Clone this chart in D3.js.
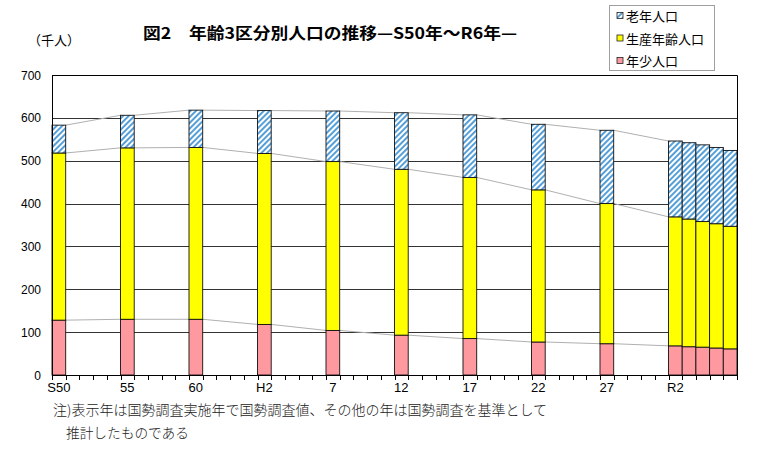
<!DOCTYPE html>
<html>
<head>
<meta charset="utf-8">
<script src="https://cdn.jsdelivr.net/npm/d3@7"></script>
<style>
  body { margin: 0; background: #fff; }
  svg { display: block; }
</style>
</head>
<body>
<div id="chart"></div>
<script>
// data (thousands of people)
var years = [1975, 1980, 1985, 1990, 1995, 2000, 2005, 2010, 2015, 2020, 2021, 2022, 2023, 2024];
var young = [128, 130, 130, 118, 104, 93, 85, 77, 73, 68, 66, 65, 63, 61];
var working = [390, 400, 401, 399, 394, 387, 376, 355, 327, 301, 298, 293, 290, 286];
var elderly = [65, 76, 87, 100, 118, 132, 146, 153, 171, 177, 178, 179, 178, 177];

var tickYears = [1975, 1980, 1985, 1990, 1995, 2000, 2005, 2010, 2015, 2020];
var tickLabels = ["S50", "55", "60", "H2", "7", "12", "17", "22", "27", "R2"];
var yTicks = [0, 100, 200, 300, 400, 500, 600, 700];

var legendNames = ["老年人口", "生産年齢人口", "年少人口"];

var width = 761,
    height = 455;
var plotLeft = 52, plotRight = 737, plotTop = 75, plotBottom = 375;
var jp = "'Noto Sans CJK JP', sans-serif";

var svg = d3.select("#chart").append("svg")
    .attr("width", width)
    .attr("height", height);

var defs = svg.append("defs");
var pat = defs.append("pattern")
    .attr("id", "hatch")
    .attr("patternUnits", "userSpaceOnUse")
    .attr("width", 4)
    .attr("height", 4)
    .attr("patternTransform", "rotate(45)");
pat.append("rect").attr("width", 4).attr("height", 4).attr("fill", "#fff");
pat.append("rect").attr("width", 2).attr("height", 4).attr("fill", "#559fd9");

var fills = ["#ff99a0", "#ffff00", "url(#hatch)"];

// category axis: one slot per year S50..R6
var x = d3.scaleBand()
    .domain(d3.range(1975, 2025))
    .range([plotLeft, plotRight])
    .padding(0);

var y = d3.scaleLinear()
    .domain([0, 700])
    .range([plotBottom, plotTop]);

// grid
svg.append("g")
    .selectAll("line")
    .data(yTicks.filter(function (d) { return d > 0; }))
    .enter().append("line")
    .attr("x1", plotLeft)
    .attr("x2", plotRight)
    .attr("y1", function (d) { return Math.round(y(d)) + 0.5; })
    .attr("y2", function (d) { return Math.round(y(d)) + 0.5; })
    .attr("stroke", function (d) { return d === 700 ? "#000" : "#333"; })
    .attr("stroke-width", 1);

// stacking
var rows = years.map(function (yr, i) {
    return { year: yr, young: young[i], working: working[i], elderly: elderly[i] };
});
var stack = d3.stack().keys(["young", "working", "elderly"]);
var layers = stack(rows);

// series lines between bar tops
var linesG = svg.append("g");
layers.forEach(function (layer) {
    for (var i = 0; i < layer.length - 1; i++) {
        linesG.append("line")
            .attr("x1", x(years[i]) + x.bandwidth())
            .attr("y1", y(layer[i][1]))
            .attr("x2", x(years[i + 1]))
            .attr("y2", y(layer[i + 1][1]))
            .attr("stroke", "#b0b0b0")
            .attr("stroke-width", 1);
    }
});

// bars
var g = svg.selectAll(".layer")
    .data(layers)
    .enter().append("g")
    .attr("class", "layer")
    .attr("fill", function (d, i) { return fills[i]; });

g.selectAll("rect")
    .data(function (d) { return d; })
    .enter().append("rect")
    .attr("x", function (d) { return x(d.data.year); })
    .attr("y", function (d) { return y(d[1]); })
    .attr("width", x.bandwidth())
    .attr("height", function (d) { return y(d[0]) - y(d[1]); })
    .attr("stroke", "#111")
    .attr("stroke-width", 0.9);

// border top/right and y axis line
svg.append("path")
    .attr("d", "M" + plotLeft + "," + (plotTop + 0.5) + "H" + (plotRight + 0.5) + "V" + plotBottom)
    .attr("fill", "none")
    .attr("stroke", "#000");
svg.append("line")
    .attr("x1", plotLeft + 0.5).attr("x2", plotLeft + 0.5)
    .attr("y1", plotTop).attr("y2", plotBottom)
    .attr("stroke", "#000");

// x axis
var xAxis = svg.append("g");
xAxis.append("line")
    .attr("x1", plotLeft).attr("x2", plotRight + 1)
    .attr("y1", plotBottom + 0.5).attr("y2", plotBottom + 0.5)
    .attr("stroke", "#000").attr("stroke-width", 1.2);
xAxis.selectAll(".tick")
    .data(d3.range(1975, 2026))
    .enter().append("line")
    .attr("x1", function (d) { return Math.round(d === 2025 ? plotRight : x(d)) + 0.5; })
    .attr("x2", function (d) { return Math.round(d === 2025 ? plotRight : x(d)) + 0.5; })
    .attr("y1", plotBottom)
    .attr("y2", plotBottom + 5)
    .attr("stroke", "#000");
xAxis.selectAll("text")
    .data(tickYears)
    .enter().append("text")
    .attr("x", function (d) { return x(d) + x.bandwidth() / 2; })
    .attr("y", plotBottom + 17)
    .attr("text-anchor", "middle")
    .attr("font-family", "'Liberation Sans Narrow', 'Arial Narrow', sans-serif")
    .attr("font-size", 13)
    .text(function (d, i) { return tickLabels[i]; });

// y axis labels
svg.append("g")
    .selectAll("text")
    .data(yTicks)
    .enter().append("text")
    .attr("x", 41)
    .attr("y", function (d) { return y(d) + 4.5; })
    .attr("text-anchor", "end")
    .attr("font-family", "'Liberation Sans', Arial, sans-serif")
    .attr("font-size", 12)
    .text(function (d) { return d; });

// unit
svg.append("text")
    .attr("x", 28)
    .attr("y", 45)
    .attr("font-family", jp)
    .attr("font-size", 13)
    .text("（千人）");

// title
svg.append("text")
    .attr("x", 143)
    .attr("y", 39)
    .attr("font-family", jp)
    .attr("font-weight", "bold")
    .attr("font-size", 16)
    .attr("textLength", 374)
    .attr("lengthAdjust", "spacingAndGlyphs")
    .text("図2\u3000年齢3区分別人口の推移\u2014S50年～R6年\u2014");

// legend
var lg = svg.append("g");
lg.append("rect")
    .attr("x", 609.5).attr("y", 5.5)
    .attr("width", 105).attr("height", 65)
    .attr("fill", "#fff")
    .attr("stroke", "#a0a0a0");
var legFills = [fills[2], fills[1], fills[0]];
legendNames.forEach(function (name, i) {
    var cy = 16 + i * 22.5;
    lg.append("rect")
        .attr("x", 617).attr("y", cy - 3.5)
        .attr("width", 6).attr("height", 6)
        .attr("fill", legFills[i])
        .attr("stroke", "#222")
        .attr("stroke-width", 0.8);
    lg.append("text")
        .attr("x", 626)
        .attr("y", cy + 5)
        .attr("font-family", jp)
        .attr("font-size", 13)
        .text(name);
});

// note
svg.append("text")
    .attr("x", 53)
    .attr("y", 415)
    .attr("font-family", jp)
    .attr("font-size", 14)
    .attr("font-weight", 300)
    .attr("fill", "#222")
    .attr("textLength", 494)
    .attr("lengthAdjust", "spacingAndGlyphs")
    .text("注)表示年は国勢調査実施年で国勢調査値、その他の年は国勢調査を基準として");
svg.append("text")
    .attr("x", 66)
    .attr("y", 438)
    .attr("font-family", jp)
    .attr("font-size", 14)
    .attr("font-weight", 300)
    .attr("fill", "#222")
    .attr("textLength", 123)
    .attr("lengthAdjust", "spacingAndGlyphs")
    .text("推計したものである");
</script>
</body>
</html>
